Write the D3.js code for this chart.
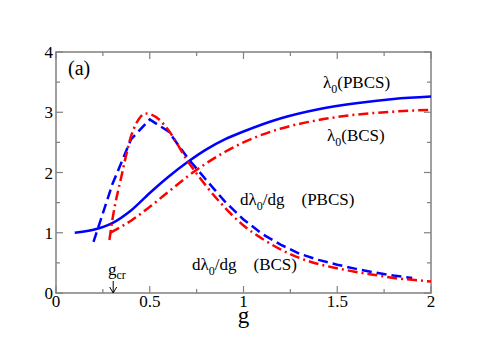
<!DOCTYPE html>
<html>
<head>
<meta charset="utf-8">
<script src="https://cdn.jsdelivr.net/npm/d3@7"></script>
<style>
	body { margin: 0; background: #fff; }
</style>
</head>
<body>
<svg id="chart" width="485" height="346"></svg>
<script>
// lambda_0 (PBCS), solid blue
var gPbcs = [0.1, 0.2, 0.3, 0.4, 0.5, 0.6, 0.7, 0.8, 0.9, 1.0, 1.2, 1.4, 1.6, 1.8, 2.0];
var lamPbcs = [1.0, 1.05, 1.16, 1.37, 1.66, 1.93, 2.17, 2.38, 2.55, 2.68, 2.90, 3.05, 3.15, 3.22, 3.26];

// lambda_0 (BCS), red dash-dot
var gBcs = [0.29, 0.4, 0.5, 0.6, 0.7, 0.8, 0.9, 1.0, 1.2, 1.4, 1.6, 1.8, 2.0];
var lamBcs = [1.0, 1.2, 1.43, 1.68, 1.93, 2.15, 2.34, 2.5, 2.73, 2.87, 2.96, 3.01, 3.04];

// d lambda_0 / dg (PBCS), dashed blue
var gDPbcs = [0.2, 0.3, 0.4, 0.5, 0.6, 0.7, 0.8, 0.9, 1.0, 1.1, 1.2, 1.3, 1.4, 1.5, 1.6, 1.7, 1.8, 1.9];
var dPbcs = [0.85, 1.8, 2.55, 2.88, 2.68, 2.25, 1.88, 1.52, 1.22, 0.98, 0.8, 0.65, 0.55, 0.47, 0.4, 0.34, 0.29, 0.25];

// d lambda_0 / dg (BCS), red dash-dot
var gDBcs = [0.285, 0.3, 0.35, 0.4, 0.45, 0.475, 0.5, 0.55, 0.6, 0.7, 0.8, 0.9, 1.0, 1.1, 1.2, 1.3, 1.4, 1.5, 1.6, 1.7, 1.8, 1.9, 2.0];
var dBcs = [0.88, 1.2, 1.95, 2.6, 2.92, 2.98, 2.97, 2.88, 2.7, 2.2, 1.78, 1.42, 1.12, 0.9, 0.72, 0.58, 0.48, 0.41, 0.35, 0.3, 0.25, 0.22, 0.19];

var xTicks = [0, 0.5, 1, 1.5, 2];
var xTickLabels = ["0", "0.5", "1", "1.5", "2"];
var yTicks = [0, 1, 2, 3, 4];

var margin = {top: 52, right: 54, bottom: 53, left: 56};
var svg = d3.select("#chart");
var width = 485 - margin.left - margin.right,
	height = 346 - margin.top - margin.bottom;

var x = d3.scaleLinear().domain([0, 2]).range([0, width]);
var y = d3.scaleLinear().domain([0, 4]).range([height, 0]);

var g = svg.append("g").attr("transform", "translate(" + margin.left + "," + margin.top + ")");

var axisColor = "#808080";

// frame
g.append("rect").attr("x", 0).attr("y", 0).attr("width", width).attr("height", height)
	.attr("fill", "none").attr("stroke", axisColor).attr("stroke-width", 1.5);

// ticks, inward on all four sides
var xMinor = d3.range(0, 2.001, 0.25);
var yMinor = d3.range(0, 4.001, 0.5);
xMinor.forEach(function(v) {
	var major = Math.abs(v * 2 - Math.round(v * 2)) < 1e-6;
	var len = major ? 7 : 4;
	g.append("line").attr("x1", x(v)).attr("x2", x(v)).attr("y1", height).attr("y2", height - len)
		.attr("stroke", axisColor).attr("stroke-width", 1.2);
	g.append("line").attr("x1", x(v)).attr("x2", x(v)).attr("y1", 0).attr("y2", len)
		.attr("stroke", axisColor).attr("stroke-width", 1.2);
});
yMinor.forEach(function(v) {
	var major = Math.abs(v - Math.round(v)) < 1e-6;
	var len = major ? 7 : 4;
	g.append("line").attr("x1", 0).attr("x2", len).attr("y1", y(v)).attr("y2", y(v))
		.attr("stroke", axisColor).attr("stroke-width", 1.2);
	g.append("line").attr("x1", width).attr("x2", width - len).attr("y1", y(v)).attr("y2", y(v))
		.attr("stroke", axisColor).attr("stroke-width", 1.2);
});

// tick labels
g.selectAll(".xl").data(xTicks).enter().append("text")
	.attr("x", function(d) { return x(d); })
	.attr("y", height + 14)
	.attr("text-anchor", "middle")
	.style("font-size", "17px")
	.text(function(d, i) { return xTickLabels[i]; });
g.selectAll(".yl").data(yTicks).enter().append("text")
	.attr("x", -3)
	.attr("y", function(d) { return y(d) + 6; })
	.attr("text-anchor", "end")
	.style("font-size", "17px")
	.text(function(d) { return d; });

// axis title
g.append("text").attr("x", x(1)).attr("y", height + 30)
	.attr("text-anchor", "middle").style("font-size", "23px").text("g");

// curves
var smooth = d3.line()
	.x(function(d) { return x(d[0]); })
	.y(function(d) { return y(d[1]); })
	.curve(d3.curveMonotoneX);
var straight = d3.line()
	.x(function(d) { return x(d[0]); })
	.y(function(d) { return y(d[1]); });

function zip(a, b) { return a.map(function(v, i) { return [v, b[i]]; }); }

var series = [
	{ data: zip(gPbcs, lamPbcs), color: "#0000ff", dash: null, line: smooth },
	{ data: zip(gBcs, lamBcs), color: "#ff0000", dash: "10,4,2,4", line: smooth },
	{ data: zip(gDPbcs, dPbcs), color: "#0000ff", dash: "10,5", line: straight },
	{ data: zip(gDBcs, dBcs), color: "#ff0000", dash: "10,4,2,4", line: smooth }
];
series.forEach(function(s) {
	g.append("path").datum(s.data)
		.attr("d", s.line)
		.attr("fill", "none")
		.attr("stroke", s.color)
		.attr("stroke-width", 2.5)
		.attr("stroke-dasharray", s.dash);
});

// annotations
function lamLabel(px, py, pre, post) {
	var t = svg.append("text").attr("x", px).attr("y", py).style("font-size", "17px");
	t.append("tspan").text(pre + "\u03bb");
	t.append("tspan").attr("dy", 5).style("font-size", "12px").text("0");
	t.append("tspan").attr("dy", -5).text(post);
}
svg.append("text").attr("x", 68).attr("y", 75).style("font-size", "20px").text("(a)");
lamLabel(323, 88, "", "(PBCS)");
lamLabel(327, 141, "", "(BCS)");
lamLabel(240, 205, "d", "/dg\u00a0\u00a0\u00a0\u00a0(PBCS)");
lamLabel(192, 270, "d", "/dg\u00a0\u00a0\u00a0\u00a0(BCS)");

// g_cr marker
var gcr = svg.append("text").attr("x", 108).attr("y", 275).style("font-size", "17px");
gcr.append("tspan").text("g");
gcr.append("tspan").attr("dy", 4).style("font-size", "12px").text("cr");
var ax = margin.left + x(0.305);
svg.append("line").attr("x1", ax).attr("x2", ax).attr("y1", 281).attr("y2", 293)
	.attr("stroke", "#000").attr("stroke-width", 1);
svg.append("path").attr("d", "M" + (ax - 3.5) + ",287 L" + ax + ",293 L" + (ax + 3.5) + ",287")
	.attr("fill", "none").attr("stroke", "#000").attr("stroke-width", 1);

// serif face on every text, set inline
svg.selectAll("text").style("font-family", "'Liberation Serif'").style("fill", "#000");
</script>
</body>
</html>
